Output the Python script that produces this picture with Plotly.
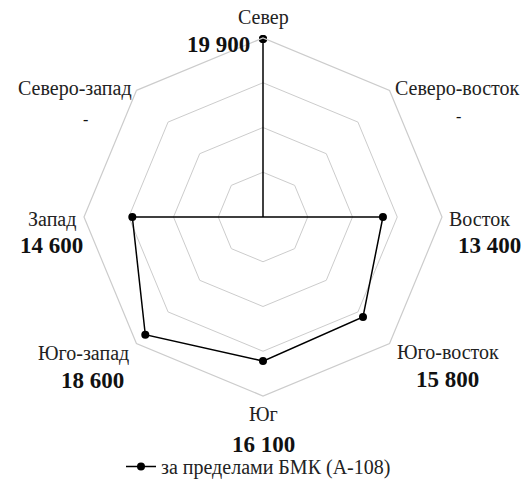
import plotly.graph_objects as go

directions = ["Север", "Северо-восток", "Восток", "Юго-восток", "Юг", "Юго-запад", "Запад", "Северо-запад"]
values = [19900, 0, 13400, 15800, 16100, 18600, 14600, 0]
value_labels = ["19 900", "-", "13 400", "15 800", "16 100", "18 600", "14 600", "-"]
series_name = "за пределами БМК (А-108)"
radial_ticks = [5000, 10000, 15000, 20000]

W, H = 526, 486
FONT = "Liberation Serif, Times New Roman, DejaVu Serif, serif"


def fx(px):
    return px / W


def fy(py):
    return 1 - py / H


fig = go.Figure()
fig.add_trace(go.Scatterpolar(
    r=values + values[:1],
    theta=directions + directions[:1],
    mode="lines+markers",
    line=dict(color="black", width=1.5),
    marker=dict(color="black", size=8),
    name=series_name,
    showlegend=True,
))

# label placement (page pixel coords): name position, value position
layout_pos = {
    "Север": ((263, 18), (218, 45)),
    "Северо-восток": ((457, 88), (458, 117)),
    "Восток": ((479, 219), (489, 245)),
    "Юго-восток": ((448, 352), (447, 379)),
    "Юг": ((263, 414), (263, 444)),
    "Юго-запад": ((83, 353), (92, 380)),
    "Запад": ((52, 220), (51, 245)),
    "Северо-запад": ((75, 88), (85, 119)),
}

annotations = []
for d, v in zip(directions, value_labels):
    (nx, ny), (vx, vy) = layout_pos[d]
    annotations.append(dict(x=fx(nx), y=fy(ny), xref="paper", yref="paper",
                            text=d, showarrow=False, xanchor="center", yanchor="middle",
                            font=dict(family=FONT, size=20, color="#222")))
    annotations.append(dict(x=fx(vx), y=fy(vy), xref="paper", yref="paper",
                            text="<b>%s</b>" % v if v != "-" else v, showarrow=False,
                            xanchor="center", yanchor="middle",
                            font=dict(family=FONT, size=23 if v != "-" else 16, color="#111")))

cx, cy, R = 263, 217, 179
fig.update_layout(
    width=W, height=H,
    margin=dict(l=0, r=0, t=0, b=0, autoexpand=False),
    paper_bgcolor="white", plot_bgcolor="white",
    font=dict(family=FONT),
    polar=dict(
        domain=dict(x=[fx(cx - R), fx(cx + R)], y=[fy(cy + R), fy(cy - R)]),
        bgcolor="white",
        gridshape="linear",
        radialaxis=dict(range=[0, 20000], tickvals=radial_ticks, showticklabels=False,
                        showline=False, ticks="", gridcolor="#cccccc", gridwidth=1.2),
        angularaxis=dict(direction="clockwise", rotation=90, showticklabels=False,
                         ticks="", showgrid=False, linecolor="#cccccc", linewidth=1.2),
    ),
    legend=dict(orientation="h", x=fx(121), xanchor="left", y=0, yanchor="bottom",
                font=dict(family=FONT, size=20, color="#222"), bgcolor="rgba(0,0,0,0)",
                borderwidth=0, itemwidth=30),
    annotations=annotations,
)

fig.write_html("out.html", config={"displayModeBar": False},
               post_script="document.body.style.margin='0';document.body.style.overflow='hidden';")
